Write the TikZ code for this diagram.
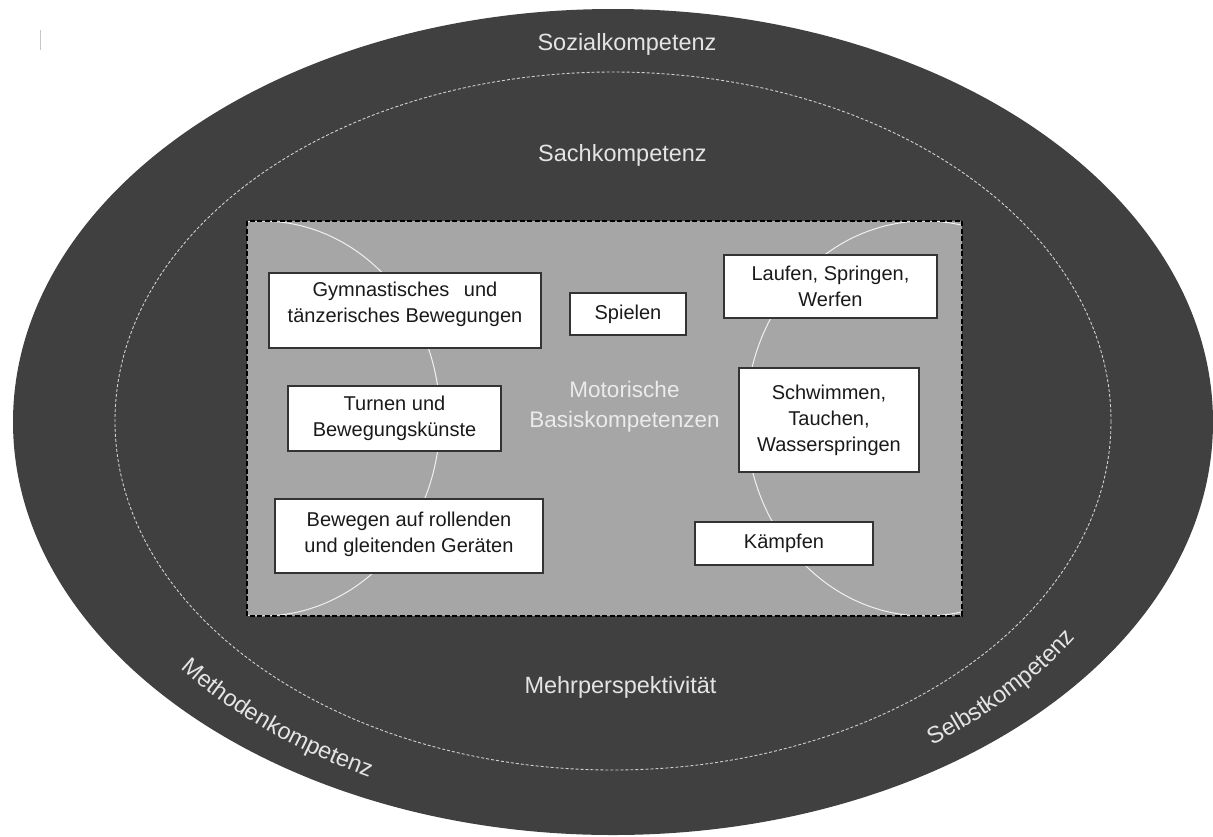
\documentclass[tikz,border=0pt]{standalone}
\usepackage{fontspec}
\setmainfont{Liberation Sans}
\usetikzlibrary{decorations.text}
\definecolor{outergray}{HTML}{404040}
\definecolor{labelcol}{HTML}{E4E4E4}
\definecolor{rectgray}{HTML}{A6A6A6}
\definecolor{motcol}{HTML}{EBEBEB}
\definecolor{arccol}{HTML}{F0F0F0}
\definecolor{boxtext}{HTML}{1A1A1A}
\definecolor{boxborder}{HTML}{333333}
\definecolor{dashell}{HTML}{D0D0D0}
\definecolor{cursorgray}{HTML}{C8C8C8}
\newcommand{\boxfont}{\fontsize{20}{26}\selectfont}
\newcommand{\labelfont}{\fontsize{23.5}{28}\selectfont}
\newcommand{\motfont}{\fontsize{22.5}{30}\selectfont}
\begin{document}
\begin{tikzpicture}[x=1pt,y=-1pt,
  kbox/.style={draw=boxborder, line width=1.2pt, fill=white, inner sep=0pt,
    align=center, font=\boxfont, text=boxtext},
  biglabel/.style={text=labelcol, font=\labelfont, inner sep=0pt, anchor=base},
  curvedlabel/.style={decorate, decoration={text along path, text align=center,
    text={|\labelfont\color{labelcol}|#1}}},
]
\useasboundingbox (0,0) rectangle (1213,836);
% outer ellipse
\fill[outergray] (613,422) ellipse[x radius=600, y radius=413];
% inner dashed ellipse
\draw[dashell, line width=0.9pt, dash pattern=on 3pt off 2pt] (613,421) ellipse[x radius=498, y radius=349];
% cursor mark
\draw[cursorgray, line width=1pt] (40,30) -- (40,50);
% rectangle
\fill[rectgray] (247,221) rectangle (962,616);
\begin{scope}
  \clip (247,221) rectangle (962,616);
  \draw[arccol, line width=1pt] (262,418.5) ellipse[x radius=178, y radius=197.5];
  \draw[arccol, line width=1pt] (925,418.5) ellipse[x radius=179, y radius=197.5];
\end{scope}
\draw[black, line width=1.8pt, dash pattern=on 5pt off 2.5pt] (247,221) rectangle (962,616);
% boxes
\node[kbox, minimum width=272, minimum height=75] (gym) at (405,310.5)
  {Gymnastisches\hspace{9pt} und\\tänzerisches Bewegungen\\[-10pt]\mbox{}};
\node[kbox, minimum width=116, minimum height=42] (spiel) at (628,314) {Spielen};
\node[kbox, minimum width=213, minimum height=63] (lauf) at (830.5,286.5) {Laufen, Springen,\\Werfen};
\node[kbox, minimum width=213, minimum height=65] (turn) at (394.5,418.5) {Turnen und\\Bewegungskünste};
\node[kbox, minimum width=180, minimum height=104] (schwimm) at (829,420) {Schwimmen,\\Tauchen,\\Wasserspringen};
\node[kbox, minimum width=268, minimum height=74] (bew) at (409,536) {Bewegen auf rollenden\\und gleitenden Geräten\\[-18pt]\mbox{}};
\node[kbox, minimum width=178, minimum height=43] (kampf) at (784,543.5) {Kämpfen};
% center label
\node[text=motcol, font=\motfont, align=center, inner sep=0pt] (mot) at (624.5,407) {Motorische\\Basiskompetenzen};
% labels
\node[biglabel] (sozial) at (627,50) {Sozialkompetenz};
\node[biglabel] (sach) at (622.5,161) {Sachkompetenz};
\node[biglabel] (mehr) at (620.5,693) {Mehrperspektivität};
% curved labels
\path[curvedlabel=Methodenkompetenz] ([shift={(613,422)}]155:552 and 396) arc[start angle=155, end angle=105, x radius=552, y radius=396];
\path[curvedlabel=Selbstkompetenz] ([shift={(613,422)}]67.5:552 and 396) arc[start angle=67.5, end angle=17.5, x radius=552, y radius=396];
\end{tikzpicture}
\end{document}
